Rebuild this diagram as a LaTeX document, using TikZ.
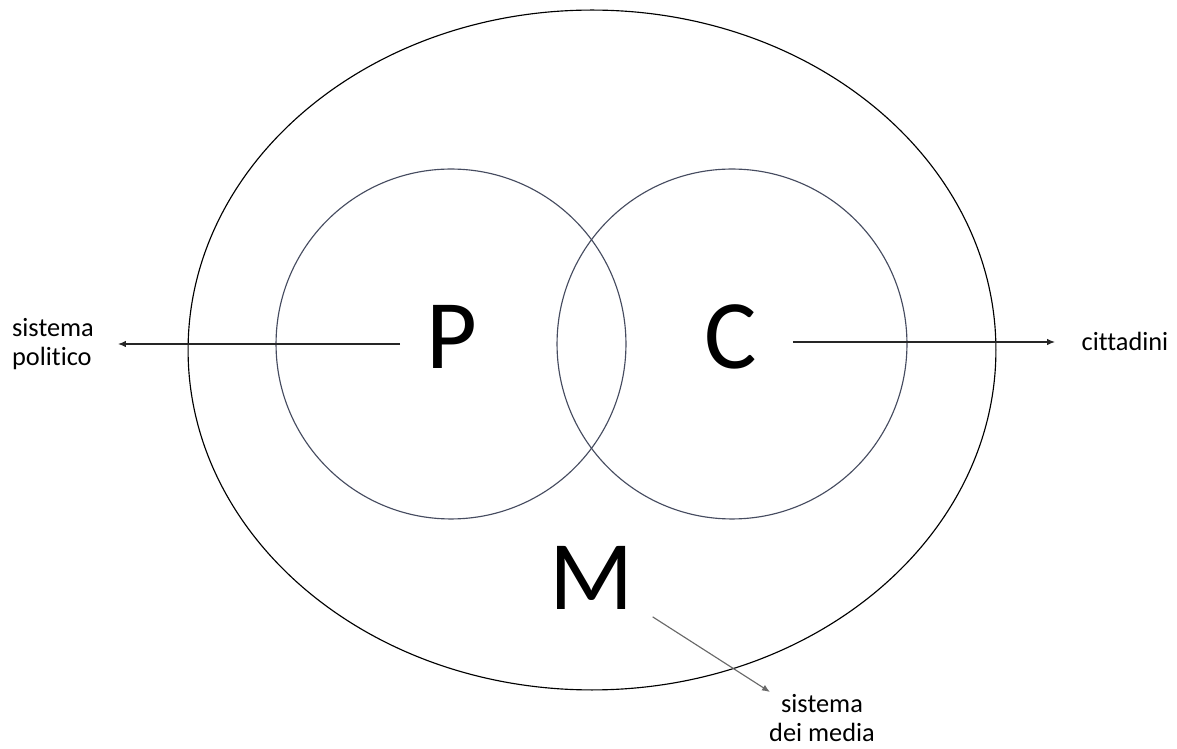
\documentclass[tikz,border=0pt]{standalone}
\usepackage{fontspec}
\setmainfont{Carlito}[Ligatures={NoCommon}]
\usetikzlibrary{shapes.geometric, arrows.meta, positioning}

\definecolor{ringcol}{RGB}{70,76,96}
\definecolor{pointcol}{RGB}{105,105,105}

\begin{document}
\begin{tikzpicture}[
        x=0.02cm, y=-0.02cm,
        ring/.style={circle, draw=ringcol, line width=0.65pt, minimum size=7cm, inner sep=0},
        letter/.style={inner sep=0, font=\fontsize{56}{60}\selectfont},
        label/.style={font=\fontsize{15}{16.5}\selectfont, inner sep=0},
        arrow/.style={-{Latex[length=1.6mm, width=1.3mm]}, line width=0.65pt, color=black!85}
    ]
    \useasboundingbox (0,0) rectangle (1177,749);

    % Outer system
    \node[ellipse, draw=black, line width=0.65pt, minimum width=16.16cm, minimum height=13.6cm, inner sep=0] (media) at (592,350) {};

    % Inner circles
    \node[ring] (pol) at (451,344) {};
    \node[ring] (cit) at (732,344) {};

    % Letters
    \node[letter] (P) at (452,337) {P};
    \node[letter] (C) at (731,337) {C};
    \node[letter] (M) at (592,578) {M};

    % Labels
    \node[label, align=left] (polLab) at (53,344) {sistema\\politico};
    \node[label] (citLab) at (1125,341) {cittadini};
    \node[label, align=center] (mediaLab) at (822,718) {sistema\\dei media};

    % Arrow tips
    \coordinate (polTip) at (118,344);
    \coordinate (citTip) at (1055,342);
    \coordinate (mediaTip) at (770,692);

    % Connections
    \draw[arrow, shorten <=1.04cm] (P.center |- polTip) -- (polTip);
    \draw[arrow, shorten <=1.24cm] (C.center |- citTip) -- (citTip);
    \draw[arrow, color=pointcol, shorten <=1.44cm] (M.center) -- (mediaTip);

\end{tikzpicture}
\end{document}
